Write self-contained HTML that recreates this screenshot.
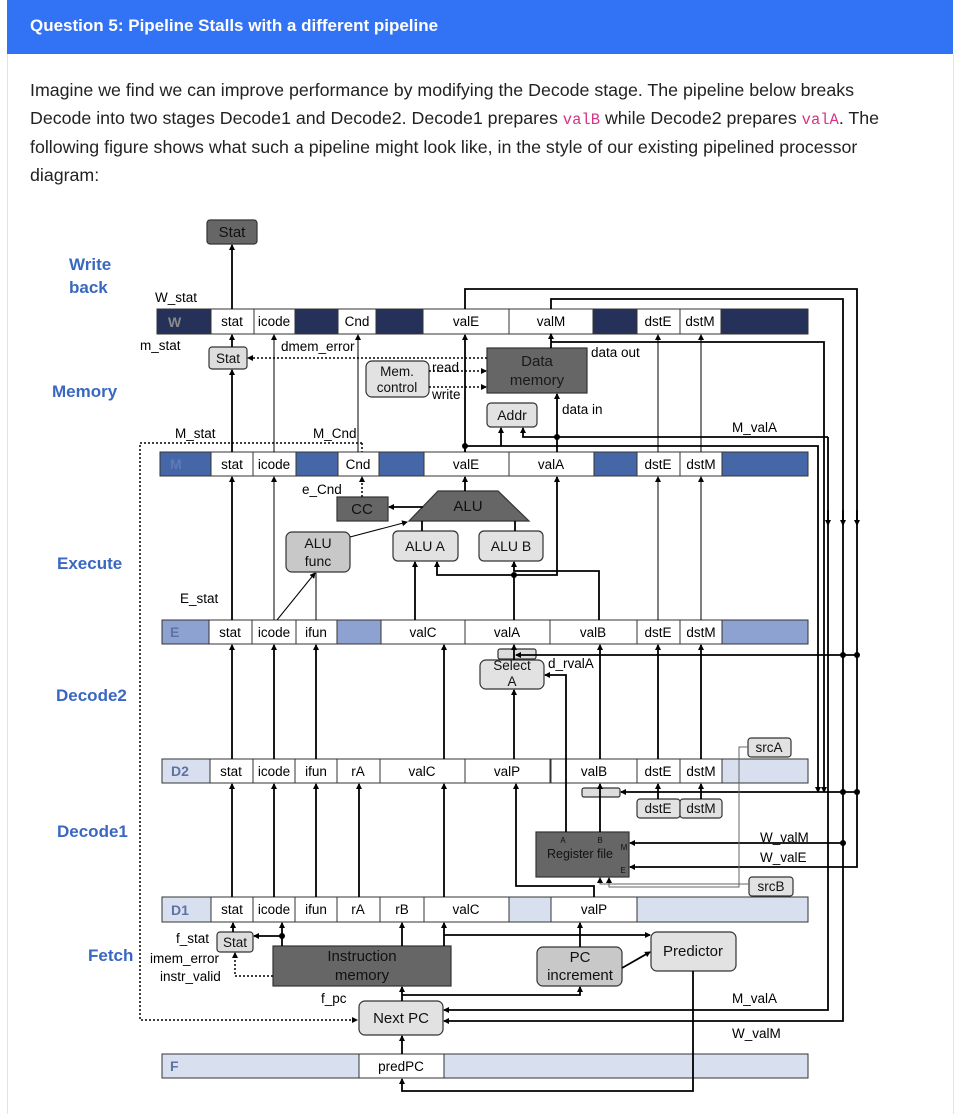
<!DOCTYPE html>
<html><head><meta charset="utf-8">
<style>
html,body{margin:0;padding:0;background:#fff;}
body{width:956px;height:1107px;position:relative;overflow:hidden;font-family:"Liberation Sans",sans-serif;}
.hdr{position:absolute;left:7px;top:0;width:946px;height:54px;background:#3273f6;color:#fff;font-size:17px;font-weight:bold;}
.hdr span{position:absolute;left:23px;top:16px;}
.card{position:absolute;left:7px;top:54px;width:945px;height:1060px;border-left:1px solid #e3e3e3;border-right:1px solid #e3e3e3;}
.p{position:absolute;left:30px;top:77px;width:920px;font-size:17.8px;line-height:27.5px;color:#222;white-space:nowrap;}
code{font-family:"Liberation Mono",monospace;color:#d63384;font-size:15.5px;}
svg{position:absolute;left:0;top:0;}
</style></head><body>
<div class="hdr"><span>Question 5: Pipeline Stalls with a different pipeline</span></div>
<div class="card"></div>
<div class="p">Imagine we find we can improve performance by modifying the Decode stage. The pipeline below breaks<br>Decode into two stages Decode1 and Decode2. Decode1 prepares <code>valB</code> while Decode2 prepares <code>valA</code>. The<br>following figure shows what such a pipeline might look like, in the style of our existing pipelined processor<br>diagram:</div>
<svg width="956" height="1107" viewBox="0 0 956 1107" font-family="Liberation Sans, sans-serif">
<defs>
<marker id="a" markerWidth="6" markerHeight="6" refX="5" refY="3" orient="auto" markerUnits="userSpaceOnUse"><path d="M0,0 L6,3 L0,6 z" fill="#000"/></marker>
</defs>
<g fill="#3a68c0" font-weight="bold" font-size="17">
<text x="69" y="270">Write</text><text x="69" y="293">back</text>
<text x="52" y="397">Memory</text>
<text x="57" y="569">Execute</text>
<text x="56" y="701">Decode2</text>
<text x="57" y="837">Decode1</text>
<text x="88" y="961">Fetch</text>
</g>
<path d="M362,443 H140 V1020 H357" fill="none" stroke="#000" stroke-width="1.5" stroke-dasharray="2,2" marker-end="url(#a)"/>
<path d="M362,443 V452" fill="none" stroke="#000" stroke-width="1.5" stroke-dasharray="2,2"/>

<g stroke="#333" stroke-width="1">
<rect x="157" y="309" width="651" height="25" fill="#263159"/>
<g fill="#fff"><rect x="211" y="309" width="43" height="25"/><rect x="254" y="309" width="41" height="25"/><rect x="338" y="309" width="38" height="25"/><rect x="423" y="309" width="86" height="25"/><rect x="509" y="309" width="84" height="25"/><rect x="637" y="309" width="43" height="25"/><rect x="680" y="309" width="41" height="25"/></g>
<rect x="160" y="452" width="648" height="24" fill="#4567a8"/>
<g fill="#fff"><rect x="211" y="452" width="42" height="24"/><rect x="253" y="452" width="43" height="24"/><rect x="338" y="452" width="41" height="24"/><rect x="424" y="452" width="85" height="24"/><rect x="509" y="452" width="85" height="24"/><rect x="637" y="452" width="43" height="24"/><rect x="680" y="452" width="42" height="24"/></g>
<rect x="162" y="620" width="646" height="24" fill="#8ea2d2"/>
<g fill="#fff"><rect x="209" y="620" width="43" height="24"/><rect x="252" y="620" width="44" height="24"/><rect x="296" y="620" width="41" height="24"/><rect x="381" y="620" width="84" height="24"/><rect x="465" y="620" width="85" height="24"/><rect x="550" y="620" width="87" height="24"/><rect x="637" y="620" width="43" height="24"/><rect x="680" y="620" width="42" height="24"/></g>
<rect x="162" y="759" width="646" height="24" fill="#d8e0f0"/>
<g fill="#fff"><rect x="210" y="759" width="43" height="24"/><rect x="253" y="759" width="42" height="24"/><rect x="295" y="759" width="42" height="24"/><rect x="337" y="759" width="43" height="24"/><rect x="380" y="759" width="85" height="24"/><rect x="465" y="759" width="85" height="24"/><rect x="551" y="759" width="86" height="24"/><rect x="637" y="759" width="43" height="24"/><rect x="680" y="759" width="42" height="24"/></g>
<rect x="162" y="897" width="646" height="25" fill="#d8e0f0"/>
<g fill="#fff"><rect x="211" y="897" width="42" height="25"/><rect x="253" y="897" width="42" height="25"/><rect x="295" y="897" width="42" height="25"/><rect x="337" y="897" width="43" height="25"/><rect x="380" y="897" width="44" height="25"/><rect x="424" y="897" width="85" height="25"/><rect x="551" y="897" width="86" height="25"/></g>
<rect x="162" y="1054" width="646" height="24" fill="#d8e0f0"/>
<rect x="359" y="1054" width="85" height="24" fill="#fff"/>
</g>
<g font-weight="bold" font-size="14">
<text x="168" y="327" fill="#8a8a8a">W</text>
<text x="170" y="469" fill="#5e7ab5">M</text>
<text x="170" y="637" fill="#5f72a3">E</text>
<text x="171" y="776" fill="#5f72a3">D2</text>
<text x="171" y="915" fill="#5f72a3">D1</text>
<text x="170" y="1071" fill="#5f72a3">F</text>
</g>
<g font-size="13.5" text-anchor="middle" fill="#000">
<text x="232" y="326">stat</text><text x="274" y="326">icode</text><text x="357" y="326">Cnd</text><text x="466" y="326">valE</text><text x="551" y="326">valM</text><text x="658" y="326">dstE</text><text x="700" y="326">dstM</text>
<text x="232" y="469">stat</text><text x="274" y="469">icode</text><text x="358" y="469">Cnd</text><text x="466" y="469">valE</text><text x="551" y="469">valA</text><text x="658" y="469">dstE</text><text x="701" y="469">dstM</text>
<text x="230" y="637">stat</text><text x="274" y="637">icode</text><text x="316" y="637">ifun</text><text x="423" y="637">valC</text><text x="507" y="637">valA</text><text x="593" y="637">valB</text><text x="658" y="637">dstE</text><text x="701" y="637">dstM</text>
<text x="231" y="776">stat</text><text x="274" y="776">icode</text><text x="316" y="776">ifun</text><text x="358" y="776">rA</text><text x="422" y="776">valC</text><text x="507" y="776">valP</text><text x="594" y="776">valB</text><text x="658" y="776">dstE</text><text x="701" y="776">dstM</text>
<text x="232" y="914">stat</text><text x="274" y="914">icode</text><text x="316" y="914">ifun</text><text x="358" y="914">rA</text><text x="402" y="914">rB</text><text x="466" y="914">valC</text><text x="594" y="914">valP</text>
<text x="401" y="1071">predPC</text>
</g>

<g stroke="#333" stroke-width="1.2">
<rect x="207" y="220" width="50" height="24" rx="3" fill="#666"/>
<rect x="209" y="347" width="38" height="22" rx="3" fill="#ddd"/>
<rect x="366" y="361" width="63" height="36" rx="6" fill="#e2e2e2"/>
<rect x="487" y="348" width="100" height="45" fill="#666"/>
<rect x="487" y="403" width="50" height="24" rx="4" fill="#e2e2e2"/>
<rect x="337" y="497" width="51" height="24" fill="#666"/>
<path d="M438,491 H498 L529,521 H409 Z" fill="#666"/>
<rect x="286" y="532" width="64" height="40" rx="6" fill="#c8c8c8"/>
<rect x="393" y="531" width="65" height="30" rx="5" fill="#e2e2e2"/>
<rect x="479" y="531" width="64" height="30" rx="5" fill="#e2e2e2"/>
<rect x="498" y="649" width="38" height="10" rx="2" fill="#ddd"/>
<rect x="480" y="660" width="64" height="29" rx="6" fill="#e2e2e2"/>
<rect x="582" y="788" width="38" height="9" rx="2" fill="#ddd"/>
<rect x="637" y="799" width="43" height="19" rx="3" fill="#e2e2e2"/>
<rect x="680" y="799" width="42" height="19" rx="3" fill="#e2e2e2"/>
<rect x="748" y="738" width="43" height="19" rx="3" fill="#e2e2e2"/>
<rect x="749" y="877" width="44" height="19" rx="3" fill="#e2e2e2"/>
<rect x="536" y="832" width="93" height="45" fill="#666"/>
<rect x="217" y="932" width="36" height="20" rx="3" fill="#ddd"/>
<rect x="273" y="946" width="178" height="40" fill="#666"/>
<rect x="537" y="947" width="85" height="39" rx="6" fill="#c8c8c8"/>
<rect x="651" y="932" width="85" height="39" rx="6" fill="#e2e2e2"/>
<rect x="359" y="1001" width="84" height="34" rx="6" fill="#e2e2e2"/>
</g>
<g font-size="15" text-anchor="middle" fill="#111">
<text x="232" y="237">Stat</text>
<text x="228" y="363" font-size="13.5">Stat</text>
<text x="397" y="376" font-size="13.5">Mem.</text><text x="397" y="392" font-size="13.5">control</text>
<text x="537" y="366" fill="#1a1a1a">Data</text><text x="537" y="385" fill="#1a1a1a">memory</text>
<text x="512" y="420" font-size="14">Addr</text>
<text x="362" y="514">CC</text>
<text x="468" y="511">ALU</text>
<text x="318" y="548" font-size="14">ALU</text><text x="318" y="566" font-size="14">func</text>
<text x="425" y="551" font-size="14">ALU A</text>
<text x="511" y="551" font-size="14">ALU B</text>
<text x="512" y="670" font-size="13.5">Select</text><text x="512" y="686" font-size="13.5">A</text>
<text x="658" y="813" font-size="13.5">dstE</text><text x="701" y="813" font-size="13.5">dstM</text>
<text x="769" y="752" font-size="13.5">srcA</text><text x="771" y="891" font-size="13.5">srcB</text>
<text x="580" y="858" font-size="12.5">Register file</text>
<text x="563" y="843" font-size="8">A</text><text x="600" y="843" font-size="8">B</text><text x="624" y="850" font-size="8">M</text><text x="623" y="873" font-size="8">E</text>
<text x="235" y="947" font-size="13.5">Stat</text>
<text x="362" y="961">Instruction</text><text x="362" y="980">memory</text>
<text x="580" y="962">PC</text><text x="580" y="980">increment</text>
<text x="693" y="956">Predictor</text>
<text x="401" y="1023">Next PC</text>
</g>
<g font-size="13.5" fill="#000">
<text x="155" y="302">W_stat</text>
<text x="140" y="350">m_stat</text>
<text x="281" y="351">dmem_error</text>
<text x="432" y="372">read</text><text x="432" y="399">write</text>
<text x="591" y="357">data out</text>
<text x="562" y="414">data in</text>
<text x="175" y="438">M_stat</text><text x="313" y="438">M_Cnd</text>
<text x="732" y="432">M_valA</text>
<text x="302" y="494">e_Cnd</text>
<text x="180" y="603">E_stat</text>
<text x="548" y="668">d_rvalA</text>
<text x="760" y="842">W_valM</text><text x="760" y="862">W_valE</text>
<text x="176" y="943">f_stat</text>
<text x="150" y="963">imem_error</text><text x="160" y="981">instr_valid</text>
<text x="321" y="1003">f_pc</text>
<text x="732" y="1003">M_valA</text><text x="732" y="1038">W_valM</text>
</g>

<g fill="none" stroke="#000" stroke-width="1.8" marker-end="url(#a)">
<path d="M232,309 V245"/>
<path d="M232,347 V335"/>
<path d="M232,452 V370"/>
<path d="M232,620 V477"/>
<path d="M232,759 V645"/>
<path d="M232,897 V784"/>
<path d="M233,932 V923"/>
<path d="M274,759 V645"/><path d="M274,897 V784"/><path d="M282,946 V923"/>
<path d="M316,759 V645"/><path d="M316,897 V784"/>
<path d="M359,897 V784"/>
<path d="M402,946 V923"/>
<path d="M444,946 V923"/>
<path d="M444,759 V645"/><path d="M444,897 V784"/>
<path d="M415,620 V562"/>
<path d="M465,491 V477"/>
<path d="M465,452 V335"/>
<path d="M514,575 H437 V562"/>
<path d="M514,620 V575 H557 V477"/>
<path d="M599,620 V571 H514 V562"/>
<path d="M422,531 V521" marker-end="none"/><path d="M515,531 V521" marker-end="none"/>
<path d="M423,507 H389"/>
<path d="M514,660 V645"/>
<path d="M514,759 V690"/>
<path d="M594,897 V886 H516 V784"/>
<path d="M566,832 V675 H545"/>
<path d="M600,832 V784"/>
<path d="M600,759 V645"/>
<path d="M658,759 V645"/><path d="M701,759 V645"/>
<path d="M658,799 V784"/><path d="M701,799 V784"/>
<path d="M551,348 V334"/>
<path d="M501,446 V428"/>
<path d="M828,437 H523 V428"/>
<path d="M557,452 V394"/>
<path d="M465,452 V446 H818 V792"/>
<path d="M551,342 H824 V792"/>
<path d="M828,437 V1010 H444"/>
<path d="M465,309 V289 H857 V867 H630"/>
<path d="M551,309 V299 H843 V1021 H444"/>
<path d="M843,843 H630"/>
<path d="M857,655 H516"/>
<path d="M857,792 H621"/>
<path d="M444,935 H650"/>
<path d="M622,968 L650,952"/>
<path d="M580,947 V923"/>
<path d="M402,1001 V987"/>
<path d="M402,995 H580 V987"/>
<path d="M402,1054 V1036"/>
<path d="M693,971 V1091 H402 V1079"/>
<path d="M282,936 H254"/>
<path d="M828,510 V525"/><path d="M843,510 V525"/><path d="M857,510 V525"/>
</g>
<g fill="none" stroke="#000" stroke-width="1" marker-end="url(#a)">
<path d="M274,452 V335"/><path d="M274,620 V477"/>
<path d="M358,452 V335"/>
<path d="M658,452 V335"/><path d="M701,452 V335"/>
<path d="M658,620 V477"/><path d="M701,620 V477"/>
<path d="M277,620 L315,573"/>
<path d="M316,620 V573" marker-end="none"/>
<path d="M350,537 L407,522"/>
</g>
<g fill="none" stroke="#666" stroke-width="1" marker-end="url(#a)">
<path d="M748,747 H739 V887 H609 V878"/>
<path d="M749,884 H600 V878"/>
</g>
<g fill="none" stroke="#000" stroke-width="1.5" stroke-dasharray="2,2" marker-end="url(#a)">
<path d="M487,358 H248"/>
<path d="M429,371 H486"/>
<path d="M429,387 H486"/>
<path d="M362,497 V477"/>
<path d="M273,976 H235 V953"/>
</g>
<g fill="#000">
<circle cx="465" cy="446" r="3"/><circle cx="557" cy="437" r="3"/><circle cx="514" cy="575" r="3"/><circle cx="282" cy="936" r="3"/>
<circle cx="843" cy="655" r="3"/><circle cx="857" cy="655" r="3"/><circle cx="843" cy="792" r="3"/><circle cx="857" cy="792" r="3"/><circle cx="843" cy="843" r="3"/>
</g>
</svg>
</body></html>
